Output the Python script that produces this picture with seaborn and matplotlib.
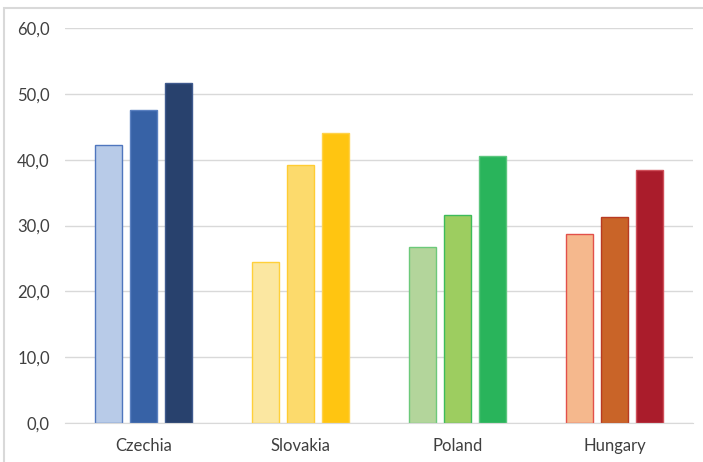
import pandas as pd
import matplotlib.pyplot as plt
import seaborn as sns
from matplotlib.patches import Rectangle

# === DONNÉES ===
countries = ["Czechia", "Slovakia", "Poland", "Hungary"]
series = ["s1", "s2", "s3"]
values_s1 = [42.2, 24.5, 26.7, 28.7]
values_s2 = [47.6, 39.2, 31.6, 31.3]
values_s3 = [51.7, 44.1, 40.6, 38.4]

# couleurs par pays (clair, moyen, foncé)
fill_colors = {
    "Czechia": ["#B8CBE8", "#3762A6", "#28416D"],
    "Slovakia": ["#FBE7A1", "#FCDA6C", "#FFC511"],
    "Poland": ["#B3D59B", "#9DCD60", "#29B45B"],
    "Hungary": ["#F5B88D", "#C96428", "#AA1C2B"],
}
edge_colors = {
    "Czechia": ["#4F76BE", "#5A80C0", "#3F5A8E"],
    "Slovakia": ["#FFD03A", "#FFCC33", "#FFD24A"],
    "Poland": ["#6CC97A", "#3DBB5B", "#5CC67E"],
    "Hungary": ["#E2504A", "#B83A22", "#D0505A"],
}

df = pd.DataFrame({
    "country": countries * 3,
    "series": [s for s in series for _ in countries],
    "value": values_s1 + values_s2 + values_s3,
})

# === FIGURE ===
sns.set_style("white")
plt.rcParams["font.family"] = ["Lato", "DejaVu Sans"]

fig = plt.figure(figsize=(7.03, 4.62), dpi=100)
ax = fig.add_axes([0.0925, 0.0844, 0.8933, 0.8546])

sns.barplot(data=df, x="country", y="value", hue="series", order=countries,
            hue_order=series, width=0.67, gap=0.23, ax=ax, legend=False,
            errorbar=None, saturation=1)

for i, cont in enumerate(ax.containers):
    for j, bar in enumerate(cont):
        c = countries[j]
        bar.set_facecolor(fill_colors[c][i])
        bar.set_edgecolor(edge_colors[c][i])
        bar.set_linewidth(1.0)

ax.set_ylim(0, 60)
ax.set_yticks(range(0, 61, 10))
ax.set_yticklabels([f"{v},0" for v in range(0, 61, 10)])
ax.set_xlim(-0.5, 3.5)
ax.grid(axis="y", color="#D9D9D9", linewidth=1)
ax.set_axisbelow(True)
for s in ["left", "right", "top"]:
    ax.spines[s].set_visible(False)
ax.spines["bottom"].set_color("#D9D9D9")
ax.tick_params(axis="both", length=0, labelsize=12, colors="#404040")
ax.tick_params(axis="x", pad=11)
ax.tick_params(axis="y", pad=11)
ax.set_xlabel("")
ax.set_ylabel("")

# cadre du graphique
fig.patches.append(Rectangle((4 / 703, -0.05), 1.2, 1 - 8 / 462 + 0.05,
                             transform=fig.transFigure, fill=False,
                             edgecolor="#D9D9D9", linewidth=1.5))

plt.savefig("out.png", dpi=100)
plt.close()
